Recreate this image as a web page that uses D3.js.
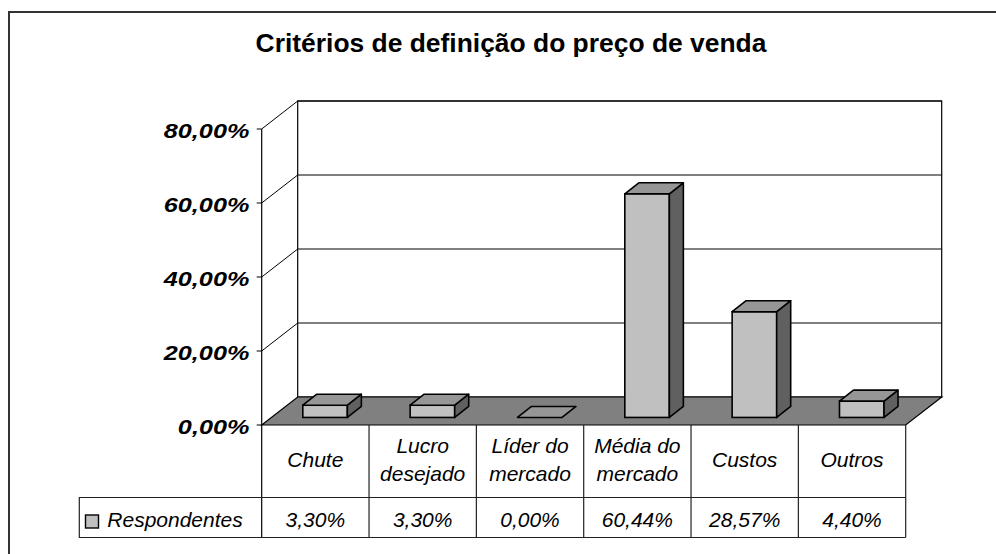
<!DOCTYPE html>
<html>
<head>
<meta charset="utf-8">
<script src="https://cdn.jsdelivr.net/npm/d3@7"></script>
<style>
  body { margin: 0; background: #fff; }
  svg text { font-family: "Liberation Sans", Arial, sans-serif; }
</style>
</head>
<body>
<div id="chart"></div>
<script>
// Chart data
var chartTitle = "Critérios de definição do preço de venda";
var seriesName = "Respondentes";
var categories = [["Chute"], ["Lucro", "desejado"], ["Líder do", "mercado"], ["Média do", "mercado"], ["Custos"], ["Outros"]];
var values = [3.30, 3.30, 0.00, 60.44, 28.57, 4.40];
var yTicks = [0, 20, 40, 60, 80];

var svgWidth = 996;
var svgHeight = 554;

var svg = d3.select("#chart")
    .append("svg")
    .attr("width", svgWidth)
    .attr("height", svgHeight);

var ptBR = d3.formatLocale({ decimal: ",", thousands: ".", grouping: [3], currency: ["R$", ""] });
var fmt = function(v) { return ptBR.format(".2f")(v) + "%"; };

// 3D geometry: front plane and depth offset of the back wall
var depthX = 36, depthY = -28;
var frontLeft = 261.7, frontRight = 905.7;

var x = d3.scaleBand()
    .domain(d3.range(categories.length))
    .range([frontLeft, frontRight]);

var y = d3.scaleLinear()
    .domain([0, 80])
    .range([425, 129]);

// outer chart border (only top/left visible)
svg.append("path")
    .attr("d", "M9,554 V12 H996")
    .attr("fill", "none")
    .attr("stroke", "#333")
    .attr("stroke-width", 2);

// title (wide, like the original renderer)
var title = svg.append("text")
    .attr("text-anchor", "middle")
    .style("font-size", "26px")
    .style("font-weight", "bold")
    .text(chartTitle);
var tw = title.node().getComputedTextLength();
title.attr("transform", "translate(511,52) scale(" + (511 / tw) + ",1)");

// back wall
var back = svg.append("g").attr("transform", "translate(" + depthX + "," + depthY + ")");
back.append("rect")
    .attr("x", frontLeft)
    .attr("y", y(80))
    .attr("width", frontRight - frontLeft)
    .attr("height", y(0) - y(80))
    .attr("fill", "#fff")
    .attr("stroke", "#000")
    .attr("stroke-width", 1.2);

back.selectAll("line.grid")
    .data(yTicks.filter(function(d) { return d > 0; }))
    .join("line")
    .attr("class", "grid")
    .attr("x1", frontLeft)
    .attr("x2", frontRight)
    .attr("y1", function(d) { return y(d); })
    .attr("y2", function(d) { return y(d); })
    .attr("stroke", "#000")
    .attr("stroke-width", 1);

// side wall lines
svg.selectAll("line.side")
    .data(yTicks.filter(function(d) { return d > 0; }))
    .join("line")
    .attr("class", "side")
    .attr("x1", frontLeft)
    .attr("y1", function(d) { return y(d); })
    .attr("x2", frontLeft + depthX)
    .attr("y2", function(d) { return y(d) + depthY; })
    .attr("stroke", "#000")
    .attr("stroke-width", 1);

// floor
svg.append("polygon")
    .attr("points", [
        [frontLeft, y(0)],
        [frontLeft + depthX, y(0) + depthY],
        [frontRight + depthX, y(0) + depthY],
        [frontRight, y(0)]
    ].map(function(p) { return p.join(","); }).join(" "))
    .attr("fill", "#808080")
    .attr("stroke", "#000")
    .attr("stroke-width", 1.2);

// bars
var f1 = 0.27;               // depth fraction of the bar front face
var barDX = 14, barDY = -11; // bar depth
var barW = x.bandwidth() * 0.415;

var bars = svg.append("g").selectAll("g")
    .data(values)
    .join("g");

bars.each(function(v, i) {
    var g = d3.select(this);
    var x0 = x(i) + (x.bandwidth() - barW) / 2 + depthX * f1;
    var yb = y(0) + depthY * f1;
    var yt = y(v) + depthY * f1;
    var pts = function(arr) { return arr.map(function(p) { return p.join(","); }).join(" "); };
    if (v > 0) {
        g.append("rect")
            .attr("x", x0).attr("y", yt)
            .attr("width", barW).attr("height", yb - yt)
            .attr("fill", "#c0c0c0")
            .attr("stroke", "#000").attr("stroke-width", 1.6);
        g.append("polygon")
            .attr("points", pts([[x0 + barW, yt], [x0 + barW + barDX, yt + barDY], [x0 + barW + barDX, yb + barDY], [x0 + barW, yb]]))
            .attr("fill", "#606060")
            .attr("stroke", "#000").attr("stroke-width", 1.6).attr("stroke-linejoin", "round");
    }
    g.append("polygon")
        .attr("points", pts([[x0, yt], [x0 + barW, yt], [x0 + barW + barDX, yt + barDY], [x0 + barDX, yt + barDY]]))
        .attr("fill", "#969696")
        .attr("stroke", "#000").attr("stroke-width", 1.6).attr("stroke-linejoin", "round");
});

// front axis line and ticks
svg.append("line")
    .attr("x1", frontLeft).attr("x2", frontLeft)
    .attr("y1", y(80)).attr("y2", 537.5)
    .attr("stroke", "#000").attr("stroke-width", 1.2);

svg.selectAll("line.tick")
    .data(yTicks)
    .join("line")
    .attr("class", "tick")
    .attr("x1", frontLeft - 5).attr("x2", frontLeft)
    .attr("y1", function(d) { return y(d); })
    .attr("y2", function(d) { return y(d); })
    .attr("stroke", "#000");

svg.selectAll("text.ylab")
    .data(yTicks)
    .join("text")
    .attr("class", "ylab")
    .attr("transform", function(d) { return "translate(249.3," + (y(d) + 9) + ") scale(1.2,1)"; })
    .attr("text-anchor", "end")
    .style("font-size", "21px")
    .style("font-weight", "bold")
    .style("font-style", "italic")
    .text(function(d) { return fmt(d); });

// data table
var rowTop = y(0), rowMid = 497.5, rowBot = 537.5, legendLeft = 79.3;
var tableColor = "#222";

svg.selectAll("line.vdiv")
    .data(d3.range(1, categories.length + 1))
    .join("line")
    .attr("class", "vdiv")
    .attr("x1", function(i) { return frontLeft + i * x.step(); })
    .attr("x2", function(i) { return frontLeft + i * x.step(); })
    .attr("y1", rowTop).attr("y2", rowBot)
    .attr("stroke", tableColor).attr("stroke-width", 1.2);

svg.append("path")
    .attr("d", "M" + frontRight + "," + rowMid + " H" + legendLeft + " V" + rowBot + " H" + frontRight)
    .attr("fill", "none")
    .attr("stroke", tableColor)
    .attr("stroke-width", 1.2);

svg.selectAll("text.cat")
    .data(categories)
    .join("text")
    .attr("class", "cat")
    .attr("text-anchor", "middle")
    .style("font-size", "21px")
    .style("font-style", "italic")
    .each(function(lines, i) {
        var t = d3.select(this);
        var cx = x(i) + x.bandwidth() / 2;
        var base = lines.length === 1 ? [466.7] : [452.7, 481];
        lines.forEach(function(l, j) {
            t.append("tspan").attr("x", cx).attr("y", base[j]).text(l);
        });
    });

svg.selectAll("text.val")
    .data(values)
    .join("text")
    .attr("class", "val")
    .attr("x", function(d, i) { return x(i) + x.bandwidth() / 2; })
    .attr("y", 527.3)
    .attr("text-anchor", "middle")
    .style("font-size", "21px")
    .style("font-style", "italic")
    .text(function(d) { return fmt(d); });

// legend key
svg.append("rect")
    .attr("x", 85.5).attr("y", 515)
    .attr("width", 13).attr("height", 13)
    .attr("fill", "#c0c0c0")
    .attr("stroke", "#000").attr("stroke-width", 1.4);

svg.append("text")
    .attr("x", 107.3)
    .attr("y", 527.3)
    .style("font-size", "21px")
    .style("font-style", "italic")
    .text(seriesName);
</script>
</body>
</html>
